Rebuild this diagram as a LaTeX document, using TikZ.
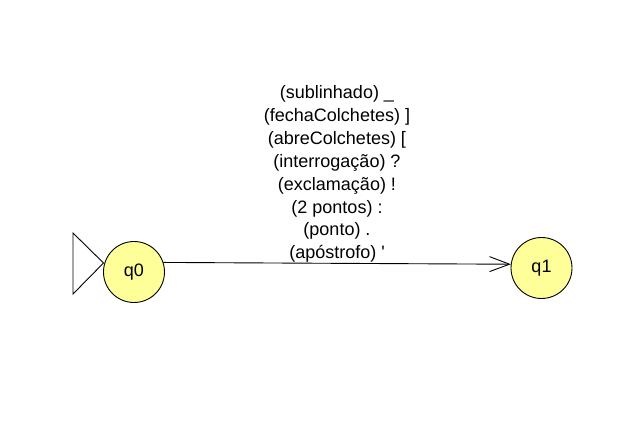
\documentclass[tikz,border=0pt]{standalone}
\usepackage{fontspec}
\setmainfont{Liberation Sans}
\usetikzlibrary{arrows.meta}
\definecolor{stfill}{RGB}{255,255,153}
\begin{document}
\begin{tikzpicture}[x=1pt,y=-1pt,
  state/.style={circle,draw=black,fill=stfill,line width=0.9pt,minimum size=61pt,inner sep=0pt,font=\fontsize{18}{22}\selectfont},
  trans/.style={line width=0.9pt,-{Straight Barb[length=20pt,width=15pt,line width=0.9pt]}},
  lbl/.style={align=center,inner sep=0pt,font=\fontsize{18}{22.9}\selectfont}]
\useasboundingbox (0,0) rectangle (642,427);
\fill[white] (0,0) rectangle (642,427);
\node[state] (q0) at (134,272) {q0};
\node[state] (q1) at (541.5,268) {q1};
\draw[line width=0.9pt] (73,233) -- (103.5,263) -- (73,294) -- cycle;
\draw[trans] (q0.18) -- (q1.173);
\node[lbl] (lab) at (337,174) {(sublinhado) \_\\(fechaColchetes) ]\\(abreColchetes) [\\(interrogação) ?\\(exclamação) !\\(2 pontos) :\\(ponto) .\\(apóstrofo) \textquotesingle};
\end{tikzpicture}
\end{document}
